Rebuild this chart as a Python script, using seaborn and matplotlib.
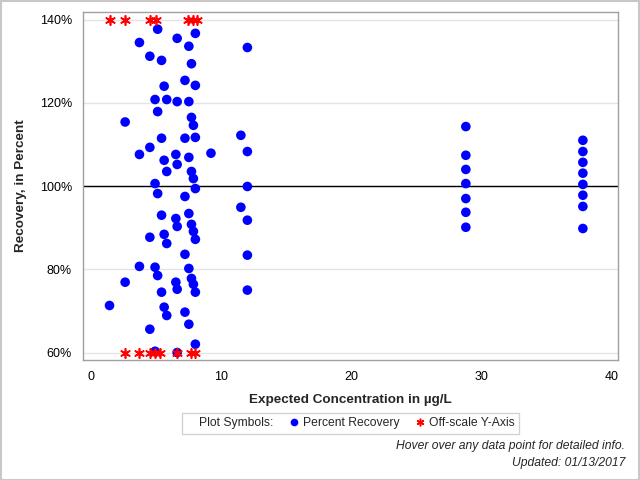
import matplotlib
matplotlib.use('Agg')
import matplotlib.pyplot as plt
import seaborn as sns
import pandas as pd
from matplotlib.lines import Line2D
from matplotlib.patches import Rectangle

# in-range points: expected concentration (ug/L) and percent recovery
conc = [1.4,
        2.6, 2.6,
        3.7, 3.7, 3.7,
        4.5, 4.5, 4.5, 4.5,
        4.9, 4.9, 4.9, 4.9,
        5.1, 5.1, 5.1, 5.1,
        5.4, 5.4, 5.4, 5.4,
        5.6, 5.6, 5.6, 5.6,
        5.8, 5.8, 5.8, 5.8,
        6.5, 6.5, 6.5,
        6.6, 6.6, 6.6, 6.6, 6.6, 6.6,
        7.2, 7.2, 7.2, 7.2, 7.2,
        7.5, 7.5, 7.5, 7.5, 7.5, 7.5,
        7.7, 7.7, 7.7, 7.7, 7.7,
        7.85, 7.85, 7.85, 7.85,
        8.0, 8.0, 8.0, 8.0, 8.0, 8.0, 8.0,
        9.2,
        11.5, 11.5,
        12.0, 12.0, 12.0, 12.0, 12.0, 12.0,
        28.8, 28.8, 28.8, 28.8, 28.8, 28.8, 28.8,
        37.8, 37.8, 37.8, 37.8, 37.8, 37.8, 37.8, 37.8]
recovery = [71.3,
            115.4, 76.9,
            134.5, 107.6, 80.7,
            131.2, 109.3, 87.7, 65.6,
            120.8, 100.6, 80.5, 60.3,
            137.7, 117.9, 98.2, 78.5,
            130.2, 111.5, 93.0, 74.5,
            124.0, 106.2, 88.4, 70.9,
            120.8, 103.5, 86.2, 68.9,
            107.6, 92.2, 76.9,
            135.5, 120.3, 105.2, 90.3, 75.2, 60.0,
            125.4, 111.5, 97.5, 83.6, 69.7,
            133.6, 120.3, 106.9, 93.4, 80.2, 66.8,
            129.4, 116.5, 103.5, 90.8, 77.8,
            114.6, 101.8, 89.1, 76.4,
            136.7, 124.2, 111.7, 99.4, 87.2, 74.5, 62.0,
            107.9,
            112.2, 94.9,
            133.3, 108.3, 99.9, 91.8, 83.4, 75.0,
            114.3, 107.4, 104.0, 100.6, 97.0, 93.7, 90.1,
            111.0, 108.3, 105.7, 103.1, 100.4, 97.8, 95.1, 89.8]

# off-scale points, drawn at the axis limits
offscale_high_conc = [1.4, 2.6, 4.55, 5.0, 7.4, 7.8, 8.1]
offscale_low_conc = [2.6, 3.7, 4.5, 4.9, 5.3, 6.6, 7.7, 8.0]
offscale_high = 140
offscale_low = 60

y_ticks = [60, 80, 100, 120, 140]
x_ticks = [0, 10, 20, 30, 40]

df = pd.DataFrame({'conc': conc, 'recovery': recovery})
off_df = pd.DataFrame({
    'conc': offscale_high_conc + offscale_low_conc,
    'recovery': [offscale_high] * len(offscale_high_conc) + [offscale_low] * len(offscale_low_conc),
})

sns.set_style('white')
plt.rcParams['font.family'] = ['Liberation Sans', 'DejaVu Sans']

fig = plt.figure(figsize=(6.4, 4.8), dpi=100)
ax = fig.add_axes([0.1297, 0.25, 0.8359, 0.7256])

ax.axhline(100, color='black', linewidth=1, zorder=1)
for yt in y_ticks:
    ax.axhline(yt, color='#e4e4e4', linewidth=1, zorder=0)

sns.scatterplot(data=df, x='conc', y='recovery', ax=ax, color='#0000ff',
                s=48, edgecolor='none', zorder=3)
star = (6, 2, 0)
sns.scatterplot(data=off_df, x='conc', y='recovery', ax=ax, color='#ff0000',
                marker=star, s=46, linewidth=1.2, zorder=4)

ax.set_xlim(-0.64, 40.5)
ax.set_ylim(58.2, 141.9)
ax.set_xticks(x_ticks)
ax.set_yticks(y_ticks)
ax.set_yticklabels([f'{t}%' for t in y_ticks])
ax.tick_params(axis='both', direction='out', length=4.5, width=1, color='#a0a0a0',
               labelsize=9, labelcolor='black', pad=3.5)
for sp in ax.spines.values():
    sp.set_color('#a0a0a0')
    sp.set_linewidth(1)

ax.set_xlabel('Expected Concentration in µg/L', fontsize=9.7, fontweight='bold', labelpad=8)
ax.set_ylabel('Recovery, in Percent', fontsize=9.7, fontweight='bold', labelpad=9)

handles = [Line2D([], [], linestyle='none'),
           Line2D([], [], linestyle='none', marker='o', color='#0000ff', markersize=4.5),
           Line2D([], [], linestyle='none', marker=star, color='#ff0000', markersize=5.5,
                  markeredgewidth=1.1)]
labels = ['Plot Symbols:', 'Percent Recovery', 'Off-scale Y-Axis']
leg = fig.legend(handles, labels, ncol=3, loc='center', bbox_to_anchor=(0.548, 0.118),
                 fontsize=8.7, frameon=True, fancybox=False, handlelength=0.5,
                 handletextpad=0.5, columnspacing=1.45, borderpad=0.35, borderaxespad=0)
leg.get_frame().set_edgecolor('#c8c8c8')
leg.get_frame().set_linewidth(1)

fig.text(0.977, 0.070, 'Hover over any data point for detailed info.', ha='right',
         va='center', fontsize=8.7, style='italic')
fig.text(0.977, 0.035, 'Updated: 01/13/2017', ha='right', va='center',
         fontsize=8.7, style='italic')

fig.patches.append(Rectangle((0.001, 0.001), 0.997, 0.997, transform=fig.transFigure,
                             fill=False, edgecolor='#c8c8c8', linewidth=1.5))

fig.savefig('out.png', dpi=100)
